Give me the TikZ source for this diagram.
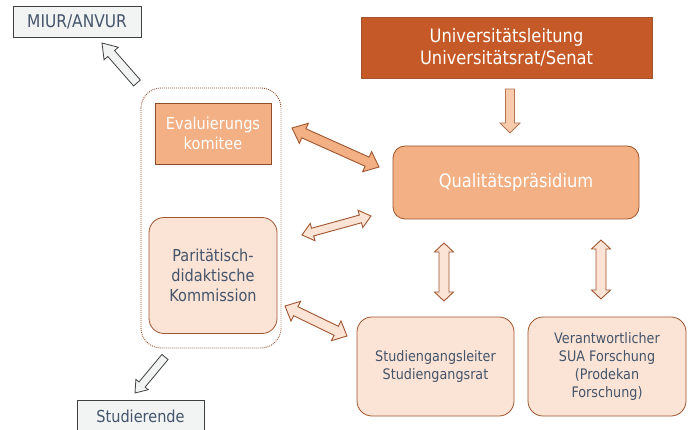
\documentclass[tikz,border=0pt]{standalone}
\usepackage{fontspec}
\setmainfont{DejaVu Sans}[FakeStretch=0.88]
\usetikzlibrary{calc}
\definecolor{txt}{HTML}{44546A}
\definecolor{darkor}{HTML}{C55A28}
\definecolor{midor}{HTML}{F2B084}
\definecolor{lightor}{HTML}{FBE3D5}
\definecolor{arrlight}{HTML}{F8CBAD}
\definecolor{brd}{HTML}{A0552E}
\definecolor{grayfill}{HTML}{F2F4F4}
\definecolor{graybrd}{HTML}{3F3F3F}
\newcommand\blockarr[6]{%
  \coordinate (ba-q) at ($(#3)!#6!(#2)$);
  \draw[#1] ($(#2)!#4!90:(#3)$) -- ($(ba-q)!#4!90:(#3)$) -- ($(ba-q)!#5!90:(#3)$) -- (#3)
    -- ($(ba-q)!#5!-90:(#3)$) -- ($(ba-q)!#4!-90:(#3)$) -- ($(#2)!#4!-90:(#3)$) -- cycle;
}
\newcommand\dblarr[6]{%
  \coordinate (da-p) at ($(#2)!#6!(#3)$);
  \coordinate (da-q) at ($(#3)!#6!(#2)$);
  \draw[#1] (#2) -- ($(da-p)!#5!90:(#3)$) -- ($(da-p)!#4!90:(#3)$) -- ($(da-q)!#4!90:(#3)$)
    -- ($(da-q)!#5!90:(#3)$) -- (#3) -- ($(da-q)!#5!-90:(#3)$) -- ($(da-q)!#4!-90:(#3)$)
    -- ($(da-p)!#4!-90:(#3)$) -- ($(da-p)!#5!-90:(#3)$) -- cycle;
}
\begin{document}
\begin{tikzpicture}[x=1pt,y=-1pt,
  box/.style={draw=brd, line width=0.8pt, inner sep=0pt, align=center},
  graybox/.style={box, fill=grayfill, draw=graybrd, text=txt},
  lightbox/.style={box, fill=lightor, text=txt, rounded corners=15pt},
  grayarr/.style={fill=grayfill, draw=graybrd, line width=0.8pt},
  lightarr/.style={fill=lightor, draw=brd, line width=0.9pt},
  midarr/.style={fill=midor, draw=brd, line width=0.9pt},
  f175/.style={font=\fontsize{17.5}{21}\selectfont},
  f185/.style={font=\fontsize{18.5}{22.5}\selectfont},
  f165/.style={font=\fontsize{16.5}{20}\selectfont},
  f145/.style={font=\fontsize{14.5}{18}\selectfont}]
\useasboundingbox (0,0) rectangle (690,430);

% boxes
\node[graybox, f175, minimum width=128pt, minimum height=31pt] (miur) at (77,21.5) {MIUR/ANVUR};
\draw[brd!90!black, line width=0.9pt, dash pattern=on 0.9pt off 1.1pt, rounded corners=20pt] (141,88) rectangle (281,348);
\node[box, fill=midor, draw={brd!90!black}, text=white, f165, minimum width=116pt, minimum height=61pt] (eval) at (213,133.5) {Evaluierungs\\komitee};
\node[lightbox, f165, minimum width=128pt, minimum height=116pt] (parit) at (213,275.5) {Paritätisch-\\didaktische\\Kommission};
\node[box, fill=darkor, draw=brd, text=white, f185, minimum width=291pt, minimum height=61pt] (uni) at (506.5,47.5) {Universitätsleitung\\Universitätsrat/Senat};
\node[box, fill=midor, text=white, f185, rounded corners=12pt, minimum width=246pt, minimum height=73pt] (qual) at (516,182.5) {Qualitätspräsidium};
\node[lightbox, f145, minimum width=157pt, minimum height=99pt] (stud) at (435.5,366.5) {Studiengangsleiter\\Studiengangsrat};
\node[lightbox, f145, minimum width=158pt, minimum height=99pt] (verant) at (607,366.5) {Verantwortlicher\\SUA Forschung\\(Prodekan\\Forschung)};
\node[graybox, f165, minimum width=127pt, minimum height=32pt] (studier) at (140.5,416) {Studierende};

% arrow end points
\coordinate (a1t) at (137,83);   \coordinate (a1h) at (102,43);
\coordinate (a2t) at (165,357);  \coordinate (a2h) at (135,393);
\coordinate (a3t) at (510,89);   \coordinate (a3h) at (510,133);
\coordinate (d1a) at (292,128);  \coordinate (d1b) at (379,167);
\coordinate (d2a) at (302,235);  \coordinate (d2b) at (371,216);
\coordinate (d3a) at (285,306);  \coordinate (d3b) at (347,336);
\coordinate (d4a) at (444,243);  \coordinate (d4b) at (444,301);
\coordinate (d5a) at (601,240);  \coordinate (d5b) at (601,299);

% arrows
\blockarr{grayarr}{a1t}{a1h}{4.5pt}{9.5pt}{14pt}
\blockarr{grayarr}{a2t}{a2h}{4pt}{8pt}{11pt}
\blockarr{fill=arrlight, draw=brd!80, line width=0.8pt}{a3t}{a3h}{4.5pt}{10pt}{10pt}
\dblarr{midarr}{d1a}{d1b}{5pt}{11pt}{13pt}
\dblarr{lightarr}{d2a}{d2b}{4pt}{9pt}{11pt}
\dblarr{lightarr}{d3a}{d3b}{5pt}{11pt}{12pt}
\dblarr{lightarr}{d4a}{d4b}{5pt}{9.5pt}{9pt}
\dblarr{lightarr}{d5a}{d5b}{5pt}{9.5pt}{9pt}
\end{tikzpicture}
\end{document}
